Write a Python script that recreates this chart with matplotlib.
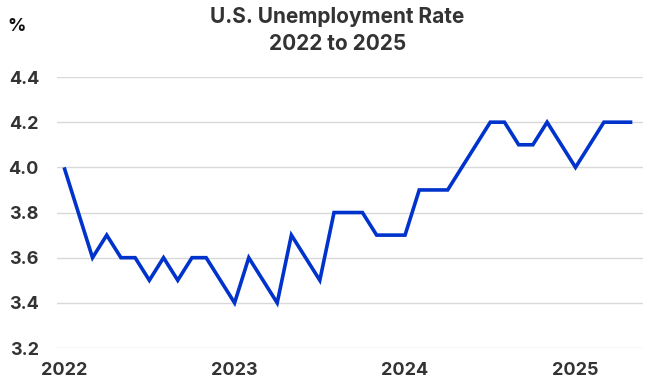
"""U.S. unemployment rate, 2022 to 2025."""

import matplotlib

matplotlib.use("Agg")
import matplotlib.pyplot as plt

# monthly rate, Jan 2022 .. May 2025
months_2022 = [4.0, 3.8, 3.6, 3.7, 3.6, 3.6, 3.5, 3.6, 3.5, 3.6, 3.6, 3.5]
months_2023 = [3.4, 3.6, 3.5, 3.4, 3.7, 3.6, 3.5, 3.8, 3.8, 3.8, 3.7, 3.7]
months_2024 = [3.7, 3.9, 3.9, 3.9, 4.0, 4.1, 4.2, 4.2, 4.1, 4.1, 4.2, 4.1]
months_2025 = [4.0, 4.1, 4.2, 4.2, 4.2]
rate = months_2022 + months_2023 + months_2024 + months_2025

year_labels = ["2022", "2023", "2024", "2025"]
y_ticks = [3.2, 3.4, 3.6, 3.8, 4.0, 4.2, 4.4]

TEXT = "#333333"
BLUE = "#0033cc"

plt.rcParams["font.family"] = ["Inter", "DejaVu Sans"]

fig = plt.figure(figsize=(6.5, 3.88), dpi=100)
ax = fig.add_axes([0.0877, 0.103, 0.9015, 0.6985])

x = list(range(len(rate)))
ax.plot(x, rate, color=BLUE, linewidth=2.6, solid_joinstyle="miter",
        solid_capstyle="butt", zorder=3)

ax.set_xlim(-0.5, 40.75)
ax.set_ylim(3.2, 4.4)
ax.set_yticks(y_ticks)
ax.set_yticklabels([f"{v:.1f}" for v in y_ticks])
ax.set_xticks([i * 12 for i in range(len(year_labels))])
ax.set_xticklabels(year_labels)

ax.grid(axis="y", color="#d9d9d9", linewidth=1.0)
ax.grid(axis="x", visible=False)
for side in ax.spines.values():
    side.set_visible(False)
ax.tick_params(length=0, colors=TEXT, labelsize=13)
ax.tick_params(axis="y", pad=13)
ax.tick_params(axis="x", pad=10)
for lab in ax.get_xticklabels() + ax.get_yticklabels():
    lab.set_fontweight("bold")

fig.text(0.519, 0.9407, "U.S. Unemployment Rate", ha="center",
         va="baseline", fontsize=15, fontweight="bold", color=TEXT)
fig.text(0.519, 0.871, "2022 to 2025", ha="center", va="baseline",
         fontsize=15, fontweight="bold", color=TEXT)
fig.text(0.0254, 0.92, "%", ha="center", va="baseline",
         fontsize=13, fontweight="bold", color="#111111")

fig.savefig("out.png", dpi=100)
